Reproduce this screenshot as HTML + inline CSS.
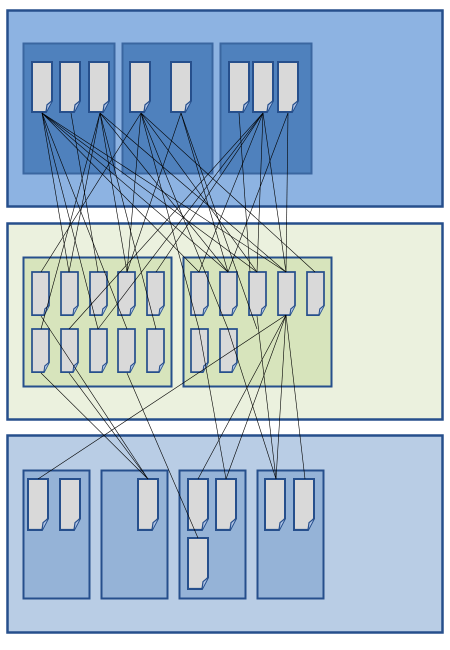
<!DOCTYPE html>
<html><head><meta charset="utf-8"><style>
html,body{margin:0;padding:0;background:#fff;width:450px;height:650px;overflow:hidden}
svg{display:block}
</style></head><body>
<svg width="450" height="650" viewBox="0 0 450 650">
<defs>
<g id="doc">
<path d="M0,0 H20 V38 L14,49 H0 Z" fill="#d9d9d9" stroke="#264f8c" stroke-width="2"/>
<path d="M14,49 L15,42 L20,38" fill="#b4c7e7" stroke="#264f8c" stroke-width="1.2"/>
</g>
</defs>
<rect x="7.5" y="10.5" width="435" height="196" fill="#8db3e2" stroke="#264f8c" stroke-width="2.5"/>
<rect x="7.5" y="223.5" width="435" height="196" fill="#ebf1de" stroke="#264f8c" stroke-width="2.5"/>
<rect x="7.5" y="435.5" width="435" height="197" fill="#b9cde5" stroke="#264f8c" stroke-width="2.5"/>
<g id="groups"></g>
<g id="docs"></g>
<g id="links" stroke="#000" stroke-width="0.6" fill="none"></g>
</svg>
<script>
const NS='http://www.w3.org/2000/svg';
const groupBoxes=[[23,43,91,130,'#4f81bd','#3a66a0'],[122,43,90,130,'#4f81bd','#3a66a0'],[220,43,91,130,'#4f81bd','#3a66a0'],
[23,257,148,129,'#d7e4bc','#264f8c'],[183,257,148,129,'#d7e4bc','#264f8c'],
[23,470,66,128,'#95b3d7','#264f8c'],[101,470,66,128,'#95b3d7','#264f8c'],[179,470,66,128,'#95b3d7','#264f8c'],[257,470,66,128,'#95b3d7','#264f8c']];
const docsTop=[[32,62],[60,62],[89,62],[130,62],[171,62],[229,62],[253,62],[278,62]];
const docsMid=[[32,272],[61,272],[90,272],[118,272],[147,272],[191,272],[220,272],[249,272],[278,272],[307,272],
[32,329],[61,329],[90,329],[118,329],[147,329],[191,329],[220,329]];
const docsBot=[[28,479],[60,479],[138,479],[188,479],[216,479],[188,538],[265,479],[294,479]];
const gG=document.getElementById('groups');
groupBoxes.forEach(b=>{const r=document.createElementNS(NS,'rect');
r.setAttribute('x',b[0]+.5);r.setAttribute('y',b[1]+.5);r.setAttribute('width',b[2]);r.setAttribute('height',b[3]);
r.setAttribute('fill',b[4]);r.setAttribute('stroke',b[5]);r.setAttribute('stroke-width','2');


gG.appendChild(r);});
const gD=document.getElementById('docs');
function addDoc(p,sy,h){const u=document.createElementNS(NS,'g');
u.setAttribute('transform','translate('+p[0]+','+p[1]+') scale('+sy+','+h+')');
u.innerHTML='<use href="#doc"/>';


gD.appendChild(u);}
docsTop.forEach(p=>addDoc(p,1,1.02));
docsMid.forEach(p=>addDoc(p,0.85,0.88));
docsBot.forEach(p=>addDoc(p,1,1.04));
const linksTM=[[42,113,199,272],[42,113,228,272],[42,113,257,272],[42,113,286,272],[42,113,69,272],[42,113,98,329],[42,113,127,329],
[71,113,98,272],[100,113,41,329],[100,113,69,272],[100,113,228,272],[100,113,286,272],[100,113,127,272],[100,113,156,329],
[141,113,41,272],[141,113,315,272],[141,113,257,272],[141,113,199,329],[141,113,127,272],[141,113,228,329],
[181,113,127,272],[181,113,257,329],[181,113,228,272],
[239,113,250,272],[263,113,69,329],[263,113,98,329],[263,113,199,272],[263,113,257,272],[263,113,286,272],[263,113,156,272],
[288,113,228,272],[288,113,286,272]];
const linksMB=[[41,316,148,479],[41,373,148,479],[69,373,148,479],[286,315,38,479],[286,315,198,479],[286,315,226,479],[286,315,276,479],[286,315,305,479],
[127,373,198,538],[199,329,226,479],[228,329,276,479],[257,316,276,479]];
const gL=document.getElementById('links');
linksTM.concat(linksMB).forEach(l=>{const e=document.createElementNS(NS,'line');
e.setAttribute('x1',l[0]);e.setAttribute('y1',l[1]);e.setAttribute('x2',l[2]);e.setAttribute('y2',l[3]);


gL.appendChild(e);});
</script>
</body></html>
